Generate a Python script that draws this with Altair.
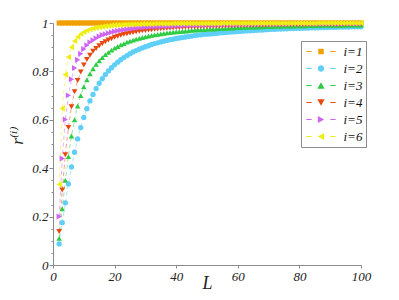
import altair as alt
import pandas as pd

L = list(range(2, 101))
series = ["i=1", "i=2", "i=3", "i=4", "i=5", "i=6"]

r1 = [1.0, 1.0, 1.0, 1.0, 1.0, 1.0, 1.0, 1.0, 1.0,
      1.0, 1.0, 1.0, 1.0, 1.0, 1.0, 1.0, 1.0, 1.0, 1.0,
      1.0, 1.0, 1.0, 1.0, 1.0, 1.0, 1.0, 1.0, 1.0, 1.0,
      1.0, 1.0, 1.0, 1.0, 1.0, 1.0, 1.0, 1.0, 1.0, 1.0,
      1.0, 1.0, 1.0, 1.0, 1.0, 1.0, 1.0, 1.0, 1.0, 1.0,
      1.0, 1.0, 1.0, 1.0, 1.0, 1.0, 1.0, 1.0, 1.0, 1.0,
      1.0, 1.0, 1.0, 1.0, 1.0, 1.0, 1.0, 1.0, 1.0, 1.0,
      1.0, 1.0, 1.0, 1.0, 1.0, 1.0, 1.0, 1.0, 1.0, 1.0,
      1.0, 1.0, 1.0, 1.0, 1.0, 1.0, 1.0, 1.0, 1.0, 1.0,
      1.0, 1.0, 1.0, 1.0, 1.0, 1.0, 1.0, 1.0, 1.0, 1.0]

r2 = [0.087, 0.175, 0.257, 0.335, 0.405, 0.466, 0.521, 0.568, 0.610,
      0.646, 0.678, 0.705, 0.729, 0.751, 0.770, 0.787, 0.802, 0.815, 0.827,
      0.838, 0.848, 0.857, 0.865, 0.873, 0.880, 0.886, 0.892, 0.897, 0.902,
      0.906, 0.911, 0.915, 0.918, 0.922, 0.925, 0.928, 0.931, 0.933, 0.936,
      0.938, 0.940, 0.942, 0.944, 0.946, 0.948, 0.950, 0.951, 0.953, 0.954,
      0.955, 0.956, 0.957, 0.959, 0.960, 0.961, 0.962, 0.963, 0.964, 0.965,
      0.966, 0.967, 0.968, 0.968, 0.969, 0.970, 0.971, 0.971, 0.972, 0.973,
      0.974, 0.974, 0.975, 0.975, 0.976, 0.976, 0.977, 0.977, 0.978, 0.978,
      0.978, 0.979, 0.979, 0.980, 0.980, 0.980, 0.981, 0.981, 0.981, 0.982,
      0.982, 0.982, 0.983, 0.983, 0.983, 0.983, 0.984, 0.984, 0.984, 0.984]

r3 = [0.110, 0.232, 0.350, 0.448, 0.533, 0.600, 0.657, 0.700, 0.736,
      0.765, 0.790, 0.811, 0.829, 0.844, 0.857, 0.869, 0.879, 0.888, 0.896,
      0.903, 0.910, 0.915, 0.921, 0.925, 0.929, 0.933, 0.937, 0.940, 0.943,
      0.946, 0.949, 0.951, 0.953, 0.955, 0.957, 0.959, 0.960, 0.962, 0.963,
      0.964, 0.966, 0.967, 0.968, 0.970, 0.971, 0.972, 0.972, 0.973, 0.974,
      0.975, 0.975, 0.976, 0.977, 0.977, 0.978, 0.979, 0.979, 0.980, 0.981,
      0.981, 0.982, 0.982, 0.983, 0.983, 0.983, 0.984, 0.984, 0.985, 0.985,
      0.985, 0.986, 0.986, 0.986, 0.987, 0.987, 0.987, 0.987, 0.988, 0.988,
      0.988, 0.988, 0.989, 0.989, 0.989, 0.989, 0.989, 0.990, 0.990, 0.990,
      0.990, 0.990, 0.990, 0.990, 0.991, 0.991, 0.991, 0.991, 0.991, 0.991]

r4 = [0.138, 0.310, 0.456, 0.568, 0.654, 0.716, 0.762, 0.798, 0.826,
      0.849, 0.867, 0.883, 0.895, 0.906, 0.915, 0.923, 0.930, 0.935, 0.941,
      0.945, 0.949, 0.953, 0.956, 0.959, 0.961, 0.964, 0.966, 0.968, 0.969,
      0.971, 0.972, 0.974, 0.975, 0.976, 0.977, 0.978, 0.979, 0.980, 0.981,
      0.981, 0.982, 0.983, 0.983, 0.984, 0.985, 0.985, 0.986, 0.986, 0.987,
      0.987, 0.987, 0.988, 0.988, 0.988, 0.989, 0.989, 0.989, 0.990, 0.990,
      0.990, 0.991, 0.991, 0.991, 0.991, 0.992, 0.992, 0.992, 0.992, 0.993,
      0.993, 0.993, 0.993, 0.993, 0.993, 0.994, 0.994, 0.994, 0.994, 0.994,
      0.994, 0.994, 0.995, 0.995, 0.995, 0.995, 0.995, 0.995, 0.995, 0.995,
      0.995, 0.995, 0.995, 0.996, 0.996, 0.996, 0.996, 0.996, 0.996, 0.996]

r5 = [0.200, 0.440, 0.601, 0.701, 0.768, 0.814, 0.848, 0.873, 0.893,
      0.908, 0.920, 0.929, 0.937, 0.944, 0.950, 0.954, 0.958, 0.962, 0.965,
      0.968, 0.970, 0.972, 0.974, 0.976, 0.977, 0.979, 0.980, 0.981, 0.982,
      0.983, 0.984, 0.985, 0.985, 0.986, 0.987, 0.987, 0.988, 0.988, 0.989,
      0.989, 0.990, 0.990, 0.991, 0.991, 0.991, 0.992, 0.992, 0.992, 0.993,
      0.993, 0.993, 0.993, 0.993, 0.994, 0.994, 0.994, 0.994, 0.994, 0.994,
      0.995, 0.995, 0.995, 0.995, 0.995, 0.995, 0.995, 0.996, 0.996, 0.996,
      0.996, 0.996, 0.996, 0.996, 0.996, 0.996, 0.997, 0.997, 0.997, 0.997,
      0.997, 0.997, 0.997, 0.997, 0.997, 0.997, 0.997, 0.997, 0.997, 0.997,
      0.997, 0.997, 0.997, 0.998, 0.998, 0.998, 0.998, 0.998, 0.998, 0.998]

r6 = [0.333, 0.647, 0.787, 0.859, 0.900, 0.926, 0.943, 0.955, 0.963,
      0.969, 0.974, 0.978, 0.981, 0.983, 0.985, 0.987, 0.988, 0.990, 0.991,
      0.992, 0.992, 0.993, 0.994, 0.994, 0.995, 0.995, 0.995, 0.996, 0.996,
      0.996, 0.996, 0.997, 0.997, 0.997, 0.997, 0.997, 0.997, 0.998, 0.998,
      0.998, 0.998, 0.998, 0.998, 0.998, 0.998, 0.998, 0.998, 0.998, 0.998,
      0.998, 0.998, 0.998, 0.998, 0.999, 0.999, 0.999, 0.999, 0.999, 0.999,
      0.999, 0.999, 0.999, 0.999, 0.999, 0.999, 0.999, 0.999, 0.999, 0.999,
      0.999, 0.999, 0.999, 0.999, 0.999, 0.999, 0.999, 0.999, 0.999, 0.999,
      0.999, 0.999, 0.999, 0.999, 0.999, 1.000, 1.000, 1.000, 1.000, 1.000,
      1.000, 1.000, 1.000, 1.000, 1.000, 1.000, 1.000, 1.000, 1.000, 1.000]

all_r = [r1, r2, r3, r4, r5, r6]
for vals in all_r:
    assert len(vals) == len(L), len(vals)

colors = ["#F0A000", "#5FCFF8", "#2DCC44", "#E8480F", "#CF63F2", "#EEEE14"]
shapes = ["square", "circle", "triangle-up", "triangle-down", "triangle-right", "triangle-left"]
sizes = [26, 38, 48, 48, 48, 48]

# legend symbols: dash - marker - dash (unit box coordinates)
dash = ("M-1.95,-0.07 L-1.25,-0.07 L-1.25,0.07 L-1.95,0.07 Z "
        "M1.25,-0.07 L1.95,-0.07 L1.95,0.07 L1.25,0.07 Z ")
legend_paths = [
    dash + "M-0.36,-0.36 L0.36,-0.36 L0.36,0.36 L-0.36,0.36 Z",
    dash + "M0.42,0 A0.42,0.42 0 1,1 -0.42,0 A0.42,0.42 0 1,1 0.42,0 Z",
    dash + "M0,-0.42 L0.48,0.42 L-0.48,0.42 Z",
    dash + "M0,0.42 L0.48,-0.42 L-0.48,-0.42 Z",
    dash + "M0.42,0 L-0.42,0.48 L-0.42,-0.48 Z",
    dash + "M-0.42,0 L0.42,0.48 L0.42,-0.48 Z",
]

rows = []
for s, vals in zip(series, all_r):
    for l, v in zip(L, vals):
        rows.append({"L": l, "r": v, "series": s})
df = pd.DataFrame(rows)

serif = "'Times New Roman', 'Liberation Serif', 'DejaVu Serif', serif"
major_test = "abs(datum.value*5 - round(datum.value*5)) < 0.001"

x_enc = alt.X(
    "L:Q",
    scale=alt.Scale(domain=[0, 100], nice=False),
    axis=alt.Axis(
        values=[0, 20, 40, 60, 80, 100], format="d", grid=False,
        labelFont=serif, labelFontStyle="italic", labelFontSize=13, labelColor="#222",
        domainColor="#8a8a8a", tickColor="#8a8a8a", tickSize=3, labelPadding=2,
        labelFlush=False, title="L", titleFont=serif, titleFontStyle="italic",
        titleFontWeight="normal", titleFontSize=18, titleColor="#222",
        titleX=154, titleY=23, titleBaseline="alphabetic", titleAlign="center",
    ),
)
y_enc = alt.Y(
    "r:Q",
    scale=alt.Scale(domain=[0, 1], nice=False),
    axis=alt.Axis(
        values=[round(k * 0.05, 2) for k in range(21)],
        labelExpr=f"{major_test} ? format(datum.value, '~g') : ''",
        labelOverlap=False, grid=False,
        labelFont=serif, labelFontStyle="italic", labelFontSize=13, labelColor="#222",
        domainColor="#8a8a8a", tickColor="#8a8a8a",
        tickSize={"condition": {"test": major_test, "value": 4}, "value": 2},
        labelPadding=1,
        title="r⁽ⁱ⁾", titleFont=serif, titleFontStyle="italic", titleFontWeight="normal",
        titleFontSize=17, titleColor="#222", titleX=-36, titleY=112,
        titleAngle=270, titleAlign="center", titleBaseline="middle",
    ),
)

base = alt.Chart(df)

lines = base.mark_line(strokeDash=[4, 3], strokeWidth=1, opacity=0.5).encode(
    x=x_enc, y=y_enc,
    color=alt.Color("series:N", scale=alt.Scale(domain=series, range=colors), legend=None),
    detail="series:N",
)

points = base.mark_point(filled=True, opacity=1, strokeWidth=0).encode(
    x=x_enc, y=y_enc,
    color=alt.Color("series:N", scale=alt.Scale(domain=series, range=colors), legend=None),
    shape=alt.Shape("series:N", scale=alt.Scale(domain=series, range=shapes), legend=None),
    size=alt.Size("series:N", scale=alt.Scale(domain=series, range=sizes), legend=None),
)

leg = alt.Legend(
    title=None, orient="none", legendX=248, legendY=18, padding=3, rowPadding=2,
    strokeColor="#8c8c8c", fillColor="white", cornerRadius=0,
    symbolSize=225, symbolStrokeWidth=0, symbolOffset=9.5, symbolOpacity=1,
    labelOffset=15, labelFont=serif, labelFontStyle="italic", labelFontSize=13,
    labelColor="#111", labelLimit=0,
)

legend_layer = base.transform_filter("datum.L < 0").mark_point(
    filled=True, opacity=1, strokeWidth=0
).encode(
    color=alt.Color("series:N", scale=alt.Scale(domain=series, range=colors), legend=leg),
    shape=alt.Shape("series:N", scale=alt.Scale(domain=series, range=legend_paths), legend=leg),
)

chart = (
    alt.layer(lines, points, legend_layer)
    .resolve_scale(color="independent", shape="independent", size="independent")
    .properties(
        width=308, height=242,
        padding={"left": 45, "top": 15, "right": 30, "bottom": 27},
        autosize=alt.AutoSizeParams(type="none"),
    )
    .configure_view(stroke=None)
)

chart.save("out.html", embed_options={"renderer": "svg", "actions": False})
